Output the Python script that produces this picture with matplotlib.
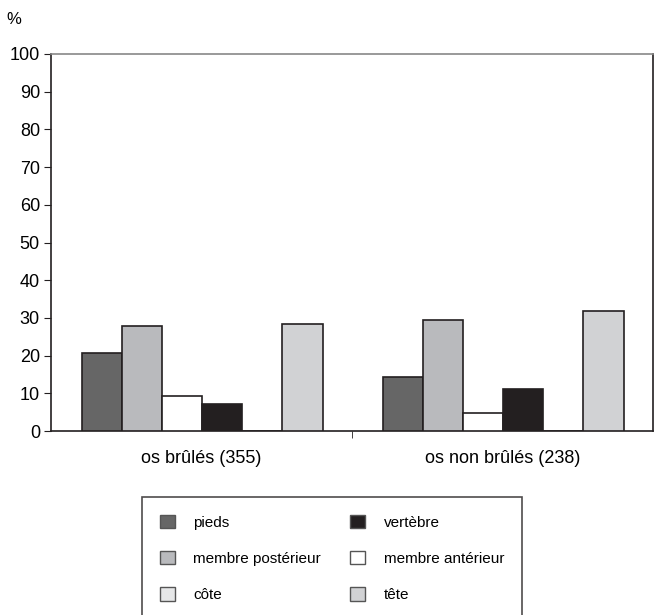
import numpy as np
import matplotlib
matplotlib.use("Agg")
import matplotlib.pyplot as plt
from matplotlib.patches import Patch

plt.rcParams['font.family'] = ['Liberation Sans', 'DejaVu Sans']

# data
groups = ["os brûlés (355)", "os non brûlés (238)"]
parts = ["pieds", "membre postérieur", "membre antérieur", "vertèbre", "côte", "tête"]
pieds = [20.8, 14.2]
membre_post = [27.8, 29.5]
membre_ant = [9.3, 4.8]
vertebre = [7.1, 11.2]
cote = [0, 0]
tete = [28.5, 31.9]
yticks = [0, 10, 20, 30, 40, 50, 60, 70, 80, 90, 100]

colors = {"pieds": "#666666", "membre postérieur": "#b9babd", "membre antérieur": "#ffffff",
          "vertèbre": "#231f20", "côte": "#e6e7e8", "tête": "#d1d2d4"}
values = [pieds, membre_post, membre_ant, vertebre, cote, tete]
edge = "#231f20"

W, H = 657, 615
fig = plt.figure(figsize=(W / 100, H / 100), dpi=100)
ax = fig.add_axes([51 / W, 1 - 431 / H, (653 - 51) / W, (431 - 54) / H])

x = np.arange(len(groups))
w = 0.133
for i, (name, vals) in enumerate(zip(parts, values)):
    pos = x - 2.5 * w + i * w + 0.003
    ax.bar(pos, vals, width=w, color=colors[name], edgecolor=edge, linewidth=1.2, zorder=3)

ax.set_xlim(-0.5, 1.5)
ax.set_ylim(0, 100)
ax.set_yticks(yticks)
ax.set_xticks(x)
ax.set_xticklabels(groups, fontsize=13)
ax.set_xticks([0.5], minor=True)
ax.tick_params(axis='x', which='major', length=0, pad=14)
ax.tick_params(axis='x', which='minor', length=5, direction='out', color=edge)
ax.tick_params(axis='y', length=5, direction='out', labelsize=13, pad=3, color=edge)
for s in ax.spines.values():
    s.set_color(edge)
    s.set_linewidth(1.2)
ax.spines['top'].set_color('#888888')

fig.text(14 / W, 1 - 19 / H, "%", fontsize=12, ha='center', va='center')

order = ["pieds", "membre postérieur", "côte", "vertèbre", "membre antérieur", "tête"]
handles = [Patch(facecolor=colors[n], edgecolor='#555555', linewidth=1) for n in order]
leg = fig.legend(handles, order, loc='upper left', bbox_to_anchor=(142 / W, 1 - 497 / H),
                 ncol=2, fontsize=11, frameon=True, fancybox=False, edgecolor=edge,
                 handlelength=1.0, handleheight=1.0, handletextpad=1.2,
                 labelspacing=1.38, columnspacing=1.9, borderpad=1.15, borderaxespad=0)
leg.get_frame().set_linewidth(1.2)

fig.savefig("out.png", dpi=100)
